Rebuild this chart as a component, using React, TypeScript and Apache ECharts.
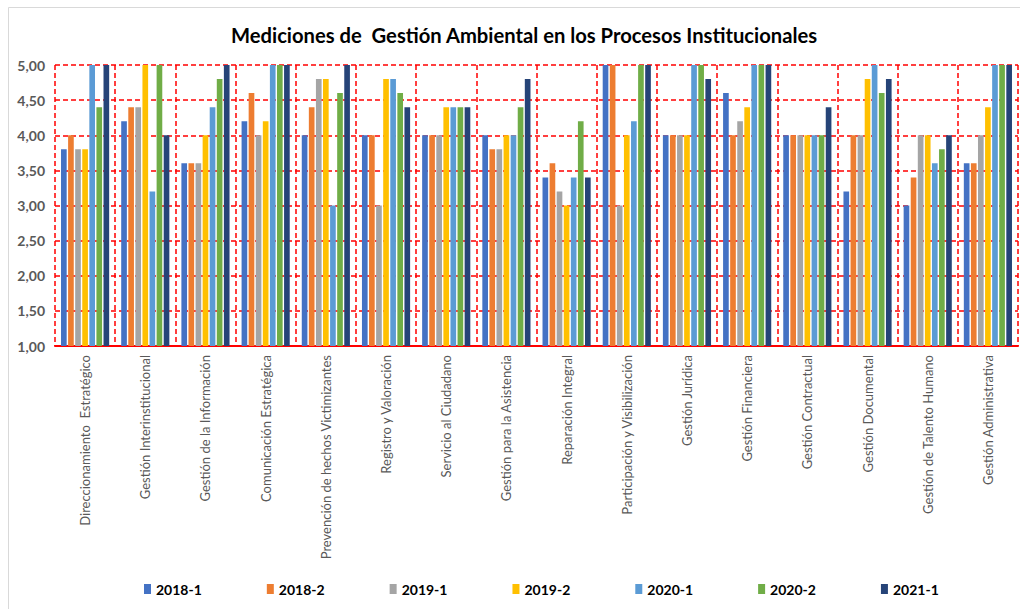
import React, { useEffect, useRef } from "react";
import * as echarts from "echarts";

const categories = [
  "Direccionamiento  Estratégico",
  "Gestión Interinstitucional",
  "Gestión de la Información",
  "Comunicación Estratégica",
  "Prevención de hechos Victimizantes",
  "Registro y Valoración",
  "Servicio al Ciudadano",
  "Gestión para la Asistencia",
  "Reparación Integral",
  "Participación y Visibilización",
  "Gestión Jurídica",
  "Gestión Financiera",
  "Gestión Contractual",
  "Gestión Documental",
  "Gestión de Talento Humano",
  "Gestión Administrativa",
];

const seriesNames = ["2018-1", "2018-2", "2019-1", "2019-2", "2020-1", "2020-2", "2021-1"];

const s2018_1 = [3.8, 4.2, 3.6, 4.2, 4.0, 4.0, 4.0, 4.0, 3.4, 5.0, 4.0, 4.6, 4.0, 3.2, 3.0, 3.6];
const s2018_2 = [4.0, 4.4, 3.6, 4.6, 4.4, 4.0, 4.0, 3.8, 3.6, 5.0, 4.0, 4.0, 4.0, 4.0, 3.4, 3.6];
const s2019_1 = [3.8, 4.4, 3.6, 4.0, 4.8, 3.0, 4.0, 3.8, 3.2, 3.0, 4.0, 4.2, 4.0, 4.0, 4.0, 4.0];
const s2019_2 = [3.8, 5.0, 4.0, 4.2, 4.8, 4.8, 4.4, 4.0, 3.0, 4.0, 4.0, 4.4, 4.0, 4.8, 4.0, 4.4];
const s2020_1 = [5.0, 3.2, 4.4, 5.0, 3.0, 4.8, 4.4, 4.0, 3.4, 4.2, 5.0, 5.0, 4.0, 5.0, 3.6, 5.0];
const s2020_2 = [4.4, 5.0, 4.8, 5.0, 4.6, 4.6, 4.4, 4.4, 4.2, 5.0, 5.0, 5.0, 4.0, 4.6, 3.8, 5.0];
const s2021_1 = [5.0, 4.0, 5.0, 5.0, 5.0, 4.4, 4.4, 4.8, 3.4, 5.0, 4.8, 5.0, 4.4, 4.8, 4.0, 5.0];

const seriesData = [s2018_1, s2018_2, s2019_1, s2019_2, s2020_1, s2020_2, s2021_1];
const colors = ["#4472C4", "#ED7D31", "#A5A5A5", "#FFC000", "#5B9BD5", "#70AD47", "#264478"];

const FONT = "Lato, 'Open Sans', sans-serif";

export default function App() {
  const ref = useRef<HTMLDivElement>(null);
  useEffect(() => {
    if (!ref.current) return;
    const chart = echarts.init(ref.current, undefined, { renderer: "svg" });
    chart.setOption({
      animation: false,
      backgroundColor: "#ffffff",
      color: colors,
      title: {
        text: "Mediciones de  Gestión Ambiental en los Procesos Institucionales",
        left: 226,
        top: 20,
        textStyle: { fontFamily: FONT, fontSize: 20.2, fontWeight: "bold", color: "#000000" },
      },
      graphic: [
        {
          type: "rect",
          shape: { x: 8.5, y: 7.5, width: 1030, height: 620 },
          style: { fill: "none", stroke: "#D9D9D9", lineWidth: 1 },
          silent: true,
        },
      ],
      legend: {
        bottom: 8,
        left: 139,
        itemWidth: 7,
        itemHeight: 10,
        itemGap: 65,
        icon: "rect",
        textStyle: { fontFamily: FONT, fontSize: 14, fontWeight: "bold", color: "#000000" },
        data: seriesNames,
      },
      grid: { left: 55, right: 2, top: 65, bottom: 263, containLabel: false },
      xAxis: {
        type: "category",
        data: categories,
        axisLine: { show: true, lineStyle: { color: "#FF0000", width: 2 } },
        axisTick: { show: false },
        splitLine: { show: true, lineStyle: { color: "#FF0000", type: [5, 3], width: 1.5 } },
        axisLabel: {
          rotate: 90,
          interval: 0,
          margin: 9,
          fontFamily: FONT,
          fontSize: 13,
          color: "#595959",
        },
      },
      yAxis: {
        type: "value",
        min: 1,
        max: 5,
        interval: 0.5,
        axisLine: { show: false },
        axisTick: { show: false },
        splitLine: { show: true, lineStyle: { color: "#FF0000", type: [5, 3], width: 1.5 } },
        axisLabel: {
          fontFamily: FONT,
          fontSize: 14,
          fontWeight: "bold",
          color: "#595959",
          margin: 10,
          formatter: (v: number) => v.toFixed(2).replace(".", ","),
        },
      },
      series: seriesNames.map((name, i) => ({
        name,
        type: "bar",
        data: seriesData[i],
        barCategoryGap: "20%",
        barGap: "25%",
        itemStyle: { color: colors[i] },
      })),
    });
    return () => chart.dispose();
  }, []);
  return (
    <div
      ref={ref}
      style={{ position: "fixed", left: 0, top: 0, width: 1020, height: 609 }}
    />
  );
}
